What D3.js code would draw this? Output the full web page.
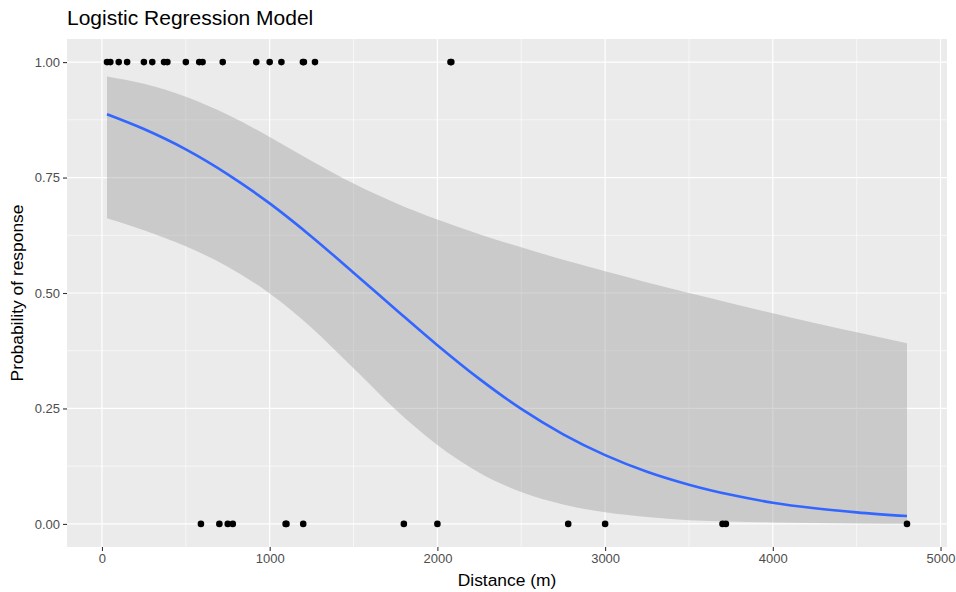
<!DOCTYPE html>
<html>
<head>
<meta charset="utf-8">
<script src="https://cdn.jsdelivr.net/npm/d3@7"></script>
<style>
  body { margin: 0; background: #fff; }
  text { font-family: "Liberation Sans", Arial, sans-serif; }
</style>
</head>
<body>
<div id="chart"></div>
<script>
'use strict';

// observed responses (distance in m)
var respondedX = [30, 50, 100, 150, 250, 300, 370, 390, 500, 580, 600, 720, 920, 1000, 1070, 1198, 1204, 1270, 2078, 2083];
var silentX = [590, 700, 750, 780, 1095, 1100, 1200, 1800, 2000, 2780, 3000, 3700, 3720, 4800];

// fitted curve + 95% band
var fitX =  [30, 250, 500, 750, 1000, 1250, 1500, 1750, 2000, 2250, 2500, 2750, 3000, 3250, 3500, 3750, 4000, 4250, 4500, 4800];
var fitP =  [0.887, 0.855, 0.811, 0.757, 0.694, 0.622, 0.544, 0.465, 0.387, 0.314, 0.249, 0.194, 0.149, 0.113, 0.085, 0.063, 0.046, 0.034, 0.025, 0.017];
var fitHi = [0.969, 0.953, 0.925, 0.886, 0.838, 0.786, 0.737, 0.695, 0.659, 0.627, 0.599, 0.572, 0.547, 0.523, 0.500, 0.478, 0.456, 0.435, 0.415, 0.391];
var fitLo = [0.662, 0.636, 0.601, 0.557, 0.499, 0.425, 0.337, 0.248, 0.171, 0.111, 0.069, 0.042, 0.025, 0.015, 0.008, 0.005, 0.003, 0.002, 0.001, 0.0005];

var xTicks = [0, 1000, 2000, 3000, 4000, 5000];
var yTicks = [0, 0.25, 0.5, 0.75, 1];

var size = [956, 592];
var margin = {top: 39, right: 9, bottom: 45, left: 67};

var svg = d3.select("#chart").append("svg")
  .attr("width", size[0])
  .attr("height", size[1]);

var width = size[0] - margin.left - margin.right;
var height = size[1] - margin.top - margin.bottom;
var g = svg.append("g").attr("transform", "translate(" + margin.left + "," + margin.top + ")");

// ggplot-style 5% expansion
var xMin = d3.min(fitX.concat(respondedX, silentX)), xMax = d3.max(fitX.concat(respondedX, silentX));
var xPad = (xMax - xMin) * 0.05;
var x = d3.scaleLinear().domain([xMin - xPad, xMax + xPad]).range([0, width]);
var y = d3.scaleLinear().domain([-0.05, 1.05]).range([height, 0]);

g.append("rect").attr("width", width).attr("height", height).attr("fill", "#EBEBEB");

// minor grid
var xMinor = d3.range(500, 5000, 1000);
var yMinor = [0.125, 0.375, 0.625, 0.875];
g.selectAll(".xminor").data(xMinor).enter().append("line")
  .attr("x1", d => x(d)).attr("x2", d => x(d)).attr("y1", 0).attr("y2", height)
  .attr("stroke", "#fff").attr("stroke-width", 0.6);
g.selectAll(".yminor").data(yMinor).enter().append("line")
  .attr("y1", d => y(d)).attr("y2", d => y(d)).attr("x1", 0).attr("x2", width)
  .attr("stroke", "#fff").attr("stroke-width", 0.6);

// major grid
g.selectAll(".xmajor").data(xTicks).enter().append("line")
  .attr("x1", d => x(d)).attr("x2", d => x(d)).attr("y1", 0).attr("y2", height)
  .attr("stroke", "#fff").attr("stroke-width", 1.2);
g.selectAll(".ymajor").data(yTicks).enter().append("line")
  .attr("y1", d => y(d)).attr("y2", d => y(d)).attr("x1", 0).attr("x2", width)
  .attr("stroke", "#fff").attr("stroke-width", 1.2);

var fit = fitX.map((d, i) => ({x: d, p: fitP[i], hi: fitHi[i], lo: fitLo[i]}));

var band = d3.area()
  .curve(d3.curveMonotoneX)
  .x(d => x(d.x))
  .y0(d => y(d.lo))
  .y1(d => y(d.hi));

g.append("path").datum(fit)
  .attr("fill", "#999999").attr("fill-opacity", 0.4)
  .attr("d", band);

var line = d3.line()
  .curve(d3.curveMonotoneX)
  .x(d => x(d.x))
  .y(d => y(d.p));

g.append("path").datum(fit)
  .attr("fill", "none").attr("stroke", "#3366FF").attr("stroke-width", 2.6)
  .attr("d", line);

var pts = respondedX.map(d => ({x: d, v: 1})).concat(silentX.map(d => ({x: d, v: 0})));
g.selectAll(".pt").data(pts).enter().append("circle")
  .attr("cx", d => x(d.x)).attr("cy", d => y(d.v)).attr("r", 3.3)
  .attr("fill", "#000");

// axes
var xAxis = g.append("g").attr("transform", "translate(0," + height + ")")
  .call(d3.axisBottom(x).tickValues(xTicks).tickFormat(d3.format("d")).tickSize(4).tickPadding(3));
var yAxis = g.append("g")
  .call(d3.axisLeft(y).tickValues(yTicks).tickFormat(d3.format(".2f")).tickSize(4).tickPadding(3));

[xAxis, yAxis].forEach(function(a) {
  a.select(".domain").remove();
  a.selectAll("line").attr("stroke", "#333333").attr("stroke-width", 1.1);
  a.selectAll("text").attr("fill", "#4D4D4D").style("font-size", "13px")
    .style("font-family", "'Liberation Sans', Arial, sans-serif");
});

svg.append("text")
  .attr("x", margin.left + width / 2).attr("y", 586)
  .attr("text-anchor", "middle").attr("fill", "#000").style("font-size", "17.4px")
  .text("Distance (m)");

svg.append("text")
  .attr("transform", "translate(23," + (margin.top + height / 2) + ") rotate(-90)")
  .attr("text-anchor", "middle").attr("fill", "#000").style("font-size", "17.4px")
  .text("Probability of response");

svg.append("text")
  .attr("x", margin.left).attr("y", 25)
  .attr("fill", "#000").style("font-size", "21px")
  .text("Logistic Regression Model");
</script>
</body>
</html>
